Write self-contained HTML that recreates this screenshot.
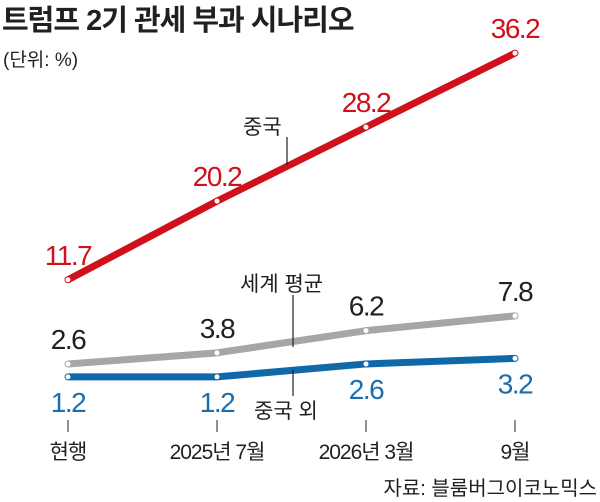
<!DOCTYPE html>
<html><head><meta charset="utf-8">
<style>
html,body{margin:0;padding:0;background:#fff;}
svg{display:block;font-family:"Liberation Sans","Noto Sans CJK KR",sans-serif;}
</style></head>
<body>
<svg width="600" height="502" viewBox="0 0 600 502">
<text x="2" y="30" font-size="29" font-weight="bold" fill="#231f20" letter-spacing="-1">트럼프 2기 관세 부과 시나리오</text>
<text x="3" y="66" font-size="19" fill="#231f20">(단위: %)</text>
<g id="plot"></g>
<line x1="287" y1="137" x2="287" y2="165" stroke="#231f20" stroke-width="1.2"/>
<text x="243" y="134" font-size="21" fill="#231f20">중국</text>
<line x1="293" y1="295" x2="293" y2="347" stroke="#231f20" stroke-width="1.2"/>
<text x="240" y="291" font-size="21" fill="#231f20">세계 평균</text>
<line x1="293" y1="370" x2="293" y2="396" stroke="#231f20" stroke-width="1.2"/>
<text x="254" y="418" font-size="21" fill="#231f20">중국 외</text>
<text x="597" y="495" font-size="20" fill="#231f20" text-anchor="end">자료: 블룸버그이코노믹스</text>
</svg>
<script>
const categories=["현행","2025년 7월","2026년 3월","9월"];
const chinaValues=[11.7,20.2,28.2,36.2];
const worldValues=[2.6,3.8,6.2,7.8];
const exChinaValues=[1.2,1.2,2.6,3.2];
const xs=[68,219,367,515];
function xScale(i){return xs[0]+i*(xs[3]-xs[0])/(categories.length-1);}
function yScale(v){return 388-v*9.25;}
const g=document.getElementById('plot');
const NS="http://www.w3.org/2000/svg";
function mk(t,a){const e=document.createElementNS(NS,t);for(const k in a)e.setAttribute(k,a[k]);g.appendChild(e);return e;}
categories.forEach((c,i)=>{
 const t=mk('line',{x1:xScale(i),x2:xScale(i),y1:420,y2:432,stroke:'#231f20','stroke-width':1});
 
 
 const l=mk('text',{x:xScale(i),y:459,'font-size':21,'text-anchor':'middle',fill:'#231f20','letter-spacing':-1});
 l.textContent=c;
 
 
});
function series(vals,color,name,labelColor,labelPos){
 const p=mk('polyline',{points:vals.map((v,i)=>xScale(i)+','+yScale(v)).join(' '),fill:'none',stroke:color,'stroke-width':7,'stroke-linejoin':'round'});
 
 
 vals.forEach((v,i)=>{
  const c=mk('circle',{cx:xScale(i),cy:yScale(v),r:3,fill:'#fff',stroke:color,'stroke-width':1});
  
  
  const off=labelPos==='above'?-15:(labelPos==='below'?35:0);
  const t=mk('text',{x:xScale(i),y:yScale(v)+off,'font-size':28,'text-anchor':'middle',fill:labelColor,'letter-spacing':-1.5});
  t.textContent=v.toFixed(1);
  
  
 });
}
series(chinaValues,'#d0111b','china','#d0111b','above');
series(worldValues,'#a6a6a6','world','#231f20','above');
series(exChinaValues,'#0f68a8','exchina','#1a6eb0','below');
</script>
</body></html>
